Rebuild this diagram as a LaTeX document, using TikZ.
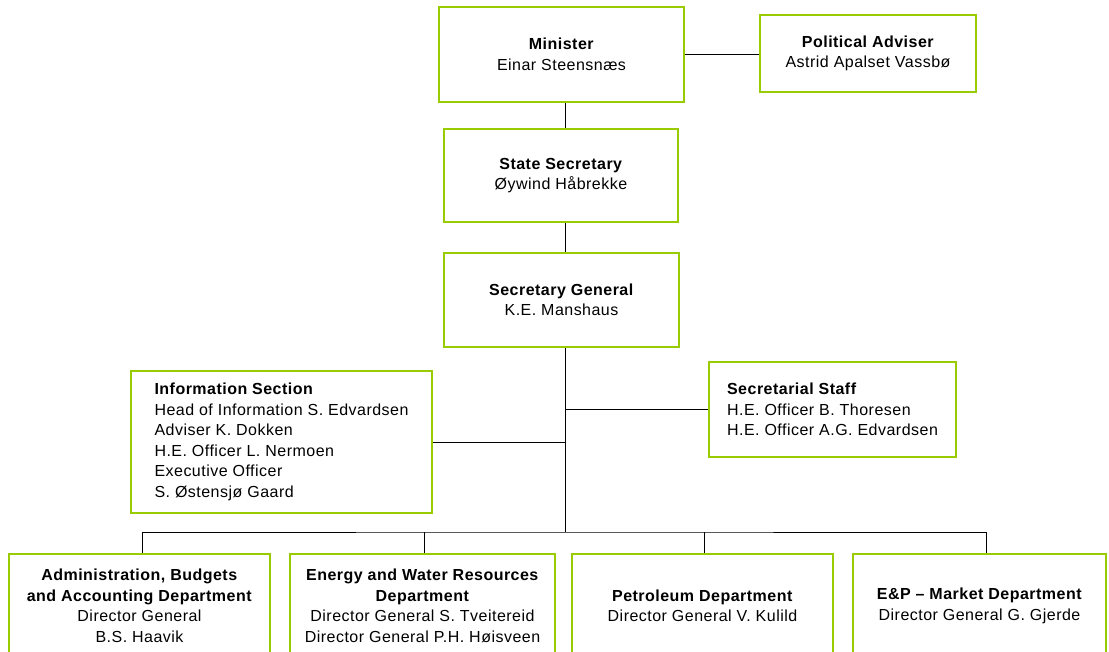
\documentclass[tikz,border=0pt]{standalone}
\usepackage{fontspec}
\setmainfont{Liberation Sans}[LetterSpace=3]
\definecolor{boxgreen}{RGB}{153,204,0}
\begin{document}
\begin{tikzpicture}[x=1pt,y=-1pt,
  orgbox/.style={draw=boxgreen, line width=2.6pt, fill=white, inner sep=0pt,
    align=center, font=\fontsize{16}{20.5}\selectfont},
  leftbox/.style={orgbox, align=left},
  conn/.style={draw=black, line width=1pt}]
\clip (0,0) rectangle (1109,652);
\fill[white] (0,0) rectangle (1109,652);
% top row
\node[orgbox, minimum width=245, minimum height=95] (min) at (561.5,54.5)
  {\textbf{Minister}\\Einar Steensnæs};
\node[orgbox, minimum width=216, minimum height=77] (pol) at (868,53.5)
  {\textbf{Political Adviser}\\Astrid Apalset Vassbø};
\node[orgbox, minimum width=234, minimum height=93] (state) at (561,175.5)
  {\textbf{State Secretary}\\Øywind Håbrekke};
\node[orgbox, minimum width=235, minimum height=94] (secgen) at (561.5,300)
  {\textbf{Secretary General}\\K.E. Manshaus};
% staff boxes
\node[leftbox, minimum width=301, minimum height=142] (info) at (281.5,442)
  {\textbf{Information Section}\\Head of Information S. Edvardsen\\Adviser K. Dokken\\H.E. Officer L. Nermoen\\Executive Officer\\S. Østensjø Gaard};
\node[leftbox, minimum width=247, minimum height=95] (secr) at (832.5,409.5)
  {\textbf{Secretarial Staff}\\H.E. Officer B. Thoresen\\H.E. Officer A.G. Edvardsen};
% departments
\node[orgbox, minimum width=261, minimum height=104] (admin) at (139.5,606)
  {\textbf{Administration, Budgets}\\\textbf{and Accounting Department}\\Director General\\B.S. Haavik};
\node[orgbox, minimum width=265, minimum height=104] (energy) at (422.5,606)
  {\textbf{Energy and Water Resources}\\\textbf{Department}\\Director General S. Tveitereid\\Director General P.H. Høisveen};
\node[orgbox, minimum width=261, minimum height=104] (petro) at (702.5,606)
  {\textbf{Petroleum Department}\\Director General V. Kulild};
\node[orgbox, minimum width=253, minimum height=104] (ep) at (979.5,606)
  {\textbf{E\&P – Market Department}\\Director General G. Gjerde};
% connectors
\coordinate (spine) at (565,0);
\coordinate (bus) at (565,532);
\draw[conn] (min.east) -- (min.east -| pol.west);
\draw[conn] (min.south -| spine) -- (state.north -| spine);
\draw[conn] (state.south -| spine) -- (secgen.north -| spine);
\draw[conn] (secgen.south -| spine) -- (bus);
\draw[conn] (info.east) -- (info.east -| spine);
\draw[conn] (secr.west) -- (secr.west -| spine);
\draw[conn] ([xshift=2.5pt]admin.north) |- (bus) -| ([xshift=6.5pt]ep.north);
\draw[conn] ([xshift=1.5pt]energy.north) -- ([xshift=1.5pt]energy.north |- bus);
\draw[conn] ([xshift=1.5pt]petro.north) -- ([xshift=1.5pt]petro.north |- bus);
\end{tikzpicture}
\end{document}
